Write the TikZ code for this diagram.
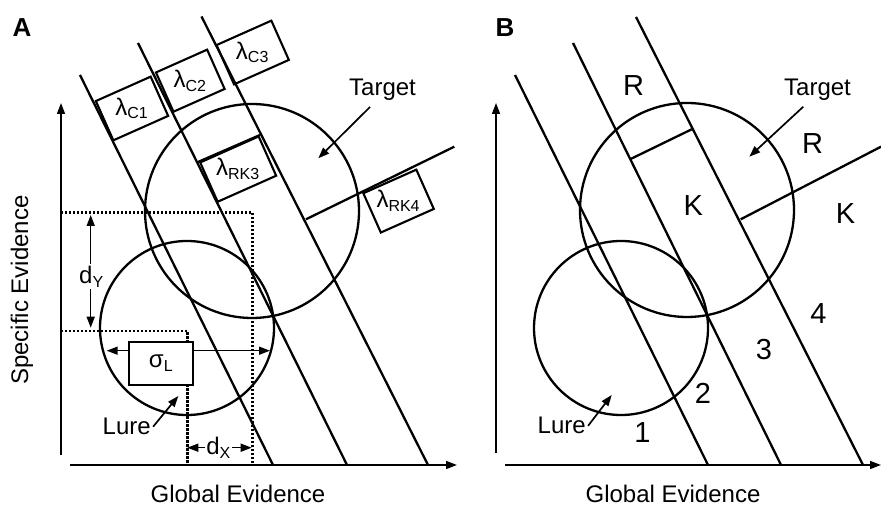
\documentclass[tikz,border=0pt]{standalone}
\usepackage{fontspec}
\setmainfont{Liberation Sans}
\usetikzlibrary{arrows.meta}

\begin{document}
\begin{tikzpicture}[x=0.5pt, y=-0.5pt,
		>={Triangle[length=5.5pt, width=4pt]},
		axisline/.style={->, line width=0.75pt},
		evline/.style={line width=1.15pt},
		guideline/.style={line width=1.1pt, dash pattern=on 1.1pt off 0.9pt},
		dimarrow/.style={<->, line width=0.75pt},
		pointer/.style={->, line width=0.85pt},
		critbox/.style={draw, line width=1.05pt, rotate=24, minimum height=21.5pt, inner sep=0pt},
		txt/.style={font=\fontsize{12}{14}\selectfont, inner sep=1pt},
		zonelabel/.style={font=\fontsize{14.5}{17}\selectfont, inner sep=0pt},
		panellabel/.style={font=\fontsize{13}{15}\selectfont\bfseries, inner sep=0pt}]

	\useasboundingbox (0,0) rectangle (881,506);

	\node[panellabel] (pA) at (22,28) {A};
	\coordinate (yA0) at (61,455);
	\coordinate (yA1) at (61,103);
	\coordinate (xA0) at (70,465);
	\coordinate (xA1) at (457,465);
	\draw[axisline] (yA0) -- (yA1);
	\draw[axisline] (xA0) -- (xA1);
	\node[txt, rotate=90] (yAlab) at (22,290) {Specific Evidence};
	\node[txt] (xAlab) at (238,494) {Global Evidence};

	\draw[guideline] (61,212.5) -- (252.5,212.5) -- (252.5,465);
	\draw[guideline] (61,331) -- (187.5,331) -- (187.5,465);

	\draw[evline] (252,211) circle[radius=107];
	\draw[evline] (187,328) circle[radius=87];

	\draw[evline] (273,465) -- (80,75);
	\draw[evline] (347,465) -- (138,43);
	\draw[evline] (428,465) -- (201.5,16.5);
	\draw[evline] (198,162) -- (260,135);
	\draw[evline] (306,219.3) -- (454.3,146.7);

	\node[critbox, minimum width=30pt] (c1A) at (132,108.5) {};
	\node[critbox, minimum width=28pt] (c2A) at (190.3,80.7) {};
	\node[critbox, minimum width=30pt] (c3A) at (252.7,52.5) {};
	\node[critbox, minimum width=32pt, anchor=north] (rk3A) at (229,148.5) {};
	\node[critbox, minimum width=29pt, anchor=north] (rk4A) at (389.4,180.5) {};
	\node[txt] (c1Atxt) at (c1A.center) {λ\textsubscript{C1}};
	\node[txt] (c2Atxt) at (c2A.center) {λ\textsubscript{C2}};
	\node[txt] (c3Atxt) at (c3A.center) {λ\textsubscript{C3}};
	\node[txt] (rk3Atxt) at (rk3A.center) {λ\textsubscript{RK3}};
	\node[txt] (rk4Atxt) at (rk4A.center) {λ\textsubscript{RK4}};

	\draw[dimarrow] (90.7,215) -- (90.7,327.7);
	\node[txt, fill=white] (dyA) at (91.7,276.7) {d\textsubscript{Y}};
	\draw[dimarrow] (106.7,350.7) -- (270,350.7);
	\node[draw, fill=white, line width=1.05pt, minimum width=32pt, minimum height=21.7pt, font=\fontsize{12}{14}\selectfont] (sigL) at (161.3,363.3) {σ\textsubscript{L}};
	\draw[dimarrow] (187.3,447.7) -- (251.7,447.7);
	\node[txt, fill=white, inner sep=0.5pt] (dxA) at (218.8,447.7) {d\textsubscript{X}};

	\node[txt] (lureA) at (126.7,426.7) {Lure};
	\coordinate (lureAtip) at (178.3,396);
	\draw[pointer] (lureA.east) to (lureAtip);
	\node[txt] (tgtA) at (382.5,90) {Target};
	\coordinate (tgtAfrom) at (370,107);
	\coordinate (tgtAtip) at (318.3,158.3);
	\draw[pointer] (tgtAfrom) to (tgtAtip);

	\node[panellabel] (pB) at (505,28) {B};
	\coordinate (yB0) at (496,453);
	\coordinate (yB1) at (496,103);
	\coordinate (xB0) at (505,465);
	\coordinate (xB1) at (881,465);
	\draw[axisline] (yB0) -- (yB1);
	\draw[axisline] (xB0) -- (xB1);
	\node[txt] (xBlab) at (673,494) {Global Evidence};

	\draw[evline] (687,210) circle[radius=107];
	\draw[evline] (621,328) circle[radius=87];

	\draw[evline] (708,465) -- (515,75);
	\draw[evline] (781,465) -- (573,43);
	\draw[evline] (863,465) -- (636,17);
	\draw[evline] (630,159.3) -- (691.7,129.3);
	\draw[evline] (740.7,219.3) -- (881,146.7);

	\node[zonelabel] (r3B) at (633.7,85.5) {R};
	\node[zonelabel] (k3B) at (693.3,205.5) {K};
	\node[zonelabel] (r4B) at (812.7,143.8) {R};
	\node[zonelabel] (k4B) at (845.5,213.8) {K};
	\node[zonelabel] (z1B) at (642.5,432.2) {1};
	\node[zonelabel] (z2B) at (702.8,393.7) {2};
	\node[zonelabel] (z3B) at (763.8,349.7) {3};
	\node[zonelabel] (z4B) at (818.3,313.7) {4};

	\node[txt] (lureB) at (561.7,425.8) {Lure};
	\coordinate (lureBtip) at (611.7,395);
	\draw[pointer] (lureB.east) to (lureBtip);
	\node[txt] (tgtB) at (817.5,90) {Target};
	\coordinate (tgtBfrom) at (803.3,106.7);
	\coordinate (tgtBtip) at (749.3,156.7);
	\draw[pointer] (tgtBfrom) to (tgtBtip);

\end{tikzpicture}
\end{document}
